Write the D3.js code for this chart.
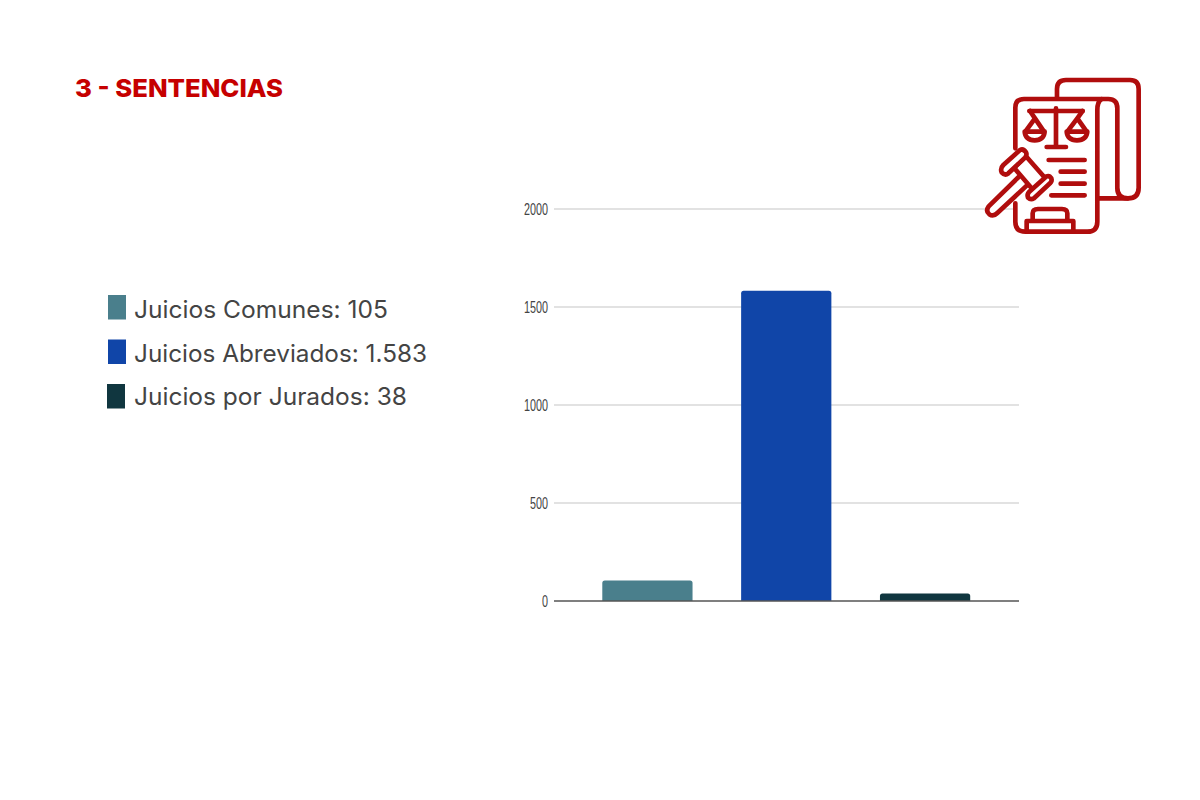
<!DOCTYPE html>
<html>
<head>
<meta charset="utf-8">
<script src="https://cdn.jsdelivr.net/npm/d3@7"></script>
<style>
    html, body { margin: 0; background: #fff; }
    svg { display: block; }
</style>
</head>
<body>
<svg id="grafico" width="1200" height="800"></svg>
<script>
const categorias = ["Juicios Comunes", "Juicios Abreviados", "Juicios por Jurados"];
const valores = [105, 1583, 38];
const etiquetas = ["105", "1.583", "38"];
const colores = ["#4a7f8c", "#1045a8", "#10363f"];
const ticksY = [0, 500, 1000, 1500, 2000];

const rojo = "#b00d0d";
const svg = d3.select("#grafico");

// Titulo
svg.append("text")
    .attr("x", 75).attr("y", 97)
    .attr("font-family", "Inter, sans-serif")
    .attr("font-weight", 800)
    .attr("font-size", 25)
    .attr("textLength", 208)
    .attr("lengthAdjust", "spacingAndGlyphs")
    .attr("fill", "#c60000")
    .text("3 - SENTENCIAS");

// Leyenda
const leyendaY = d3.scalePoint().domain(categorias).range([308, 397]);
const leyenda = svg.append("g").selectAll("g").data(categorias).join("g")
    .attr("transform", d => `translate(0,${leyendaY(d)})`);
leyenda.append("rect")
    .attr("x", (d, i) => i === 2 ? 107 : 108).attr("y", -13)
    .attr("width", 18).attr("height", 24.5)
    .attr("fill", (d, i) => colores[i]);
leyenda.append("text")
    .attr("x", 134).attr("y", (d, i) => 10 - i)
    .attr("font-family", "Inter, sans-serif")
    .attr("font-size", 24)
    .attr("fill", "#444444")
    .text((d, i) => `${d}: ${etiquetas[i]}`)
    .each(function (d, i) {
        // ancho medido en la referencia
        d3.select(this).attr("textLength", [254, 293, 273][i]).attr("lengthAdjust", "spacingAndGlyphs");
    });

// Escalas
const x = d3.scaleBand().domain(categorias).range([578, 994.5]).paddingInner(0.35).paddingOuter(0.175);
const y = d3.scaleLinear().domain([0, 2000]).range([601, 209]);

// Rejilla
svg.append("g").selectAll("line").data(ticksY.filter(d => d > 0)).join("line")
    .attr("x1", 554).attr("x2", 1019)
    .attr("y1", d => y(d)).attr("y2", d => y(d))
    .attr("stroke", "#d9d9d9").attr("stroke-width", 1.6);

// Barras
svg.append("g").selectAll("path").data(categorias).join("path")
    .attr("d", (d, i) => {
        const x0 = x(d), x1 = x0 + x.bandwidth(), y0 = y(0), y1 = y(valores[i]), r = 2.5;
        return `M${x0},${y0}V${y1 + r}Q${x0},${y1} ${x0 + r},${y1}H${x1 - r}Q${x1},${y1} ${x1},${y1 + r}V${y0}Z`;
    })
    .attr("fill", (d, i) => colores[i]);

// Eje base
svg.append("line")
    .attr("x1", 554).attr("x2", 1019)
    .attr("y1", y(0)).attr("y2", y(0))
    .attr("stroke", "#555555").attr("stroke-width", 1.6);

// Etiquetas del eje Y, angostas como en la referencia
svg.append("g").selectAll("text").data(ticksY).join("text")
    .attr("x", 548)
    .attr("y", d => y(d) + 6)
    .attr("text-anchor", "end")
    .attr("font-family", "'Liberation Sans', sans-serif")
    .attr("font-size", 17)
    .attr("fill", "#444444")
    .attr("textLength", d => String(d).length * 6)
    .attr("lengthAdjust", "spacingAndGlyphs")
    .text(d => d);

// Icono: expediente, balanza y martillo
const icono = svg.append("g")
    .attr("transform", "translate(970,65) scale(0.3333)")
    .attr("fill", "none")
    .attr("stroke", rojo)
    .attr("stroke-width", 14)
    .attr("stroke-linecap", "round")
    .attr("stroke-linejoin", "round");

// hoja trasera y pliegue
icono.append("path").attr("d", "M261,98V72Q261,45 288,45H480Q506,45 506,72V368Q506,400 474,400H384");
icono.append("path").attr("d", "M395,102H415Q442,102 442,130V368Q442,400 474,400");
// hoja frontal, rellena para tapar la rejilla
icono.append("path").attr("fill", "#fff").attr("stroke", "none")
    .attr("d", "M136,128Q136,102 162,102H395Q382,110 382,135V470Q382,500 352,500H166Q136,500 136,470Z");
icono.append("path").attr("d", "M136,250V128Q136,102 162,102H395Q382,110 382,135V470Q382,500 352,500H166Q136,500 136,470V415");

const trazos = [
    // balanza
    "M178,138H338M258,130V240M230,246H288",
    "M180,138L195,160L166,200M195,160L222,200",
    "M338,138L322,160L292,200M322,160L350,200",
    "M164,200H224Q222,226 194,226Q166,226 164,200Z",
    "M290,200H352Q350,226 321,226Q292,226 290,200Z",
    // lineas de texto
    "M236,285H344M272,320H344M272,356H344M244,391H344"
];
icono.append("g").selectAll("path").data(trazos).join("path").attr("d", d => d);

// martillo, con relleno blanco sobre la hoja
const martillo = [
    "M146,336L56,424Q46,438 58,448Q70,456 82,444L170,362",
    "M132,308L168,274L226,340L190,376Z",
    "M100,300L150,255Q160,250 168,262Q172,270 165,278L115,325Q105,333 95,322Q90,310 100,300Z",
    "M178,380L228,335Q238,330 244,340Q247,348 240,355L192,400Q182,406 174,398Q170,388 178,380Z"
];
icono.append("g").selectAll("path").data(martillo).join("path")
    .attr("d", d => d)
    .attr("fill", "#fff");

// base
icono.append("path").attr("d", "M188,465V445Q188,432 204,432H276Q292,432 292,445V465");
icono.append("path").attr("d", "M170,498V468H310V498");
</script>
</body>
</html>
